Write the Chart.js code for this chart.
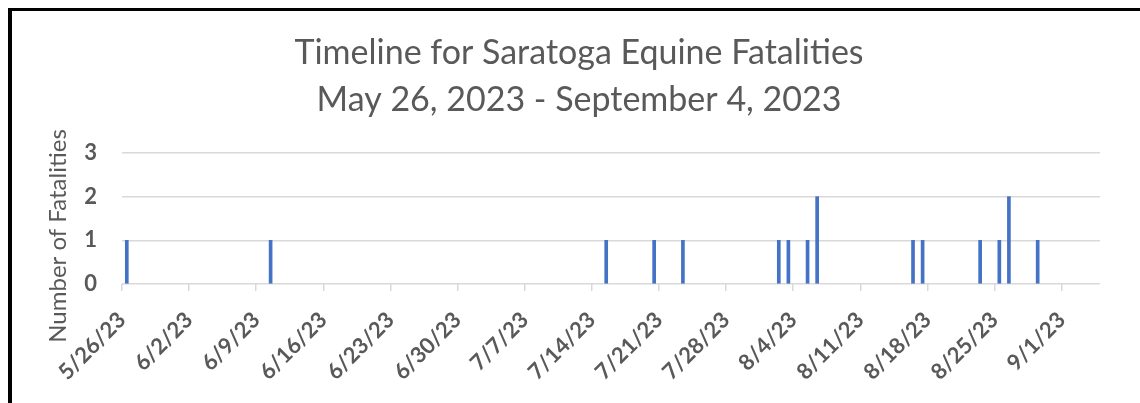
<!DOCTYPE html>
<html>
<head>
<meta charset="utf-8">
<script src="https://cdn.jsdelivr.net/npm/chart.js@4.4.0/dist/chart.umd.min.js"></script>
<style>
  html, body { margin: 0; padding: 0; background: #fff; }
  #wrap { position: relative; width: 1140px; height: 403px; overflow: hidden; }
  #fatalityChart { position: absolute; left: 0; top: 0; }
  #frame { position: absolute; left: 8px; top: 8px; right: -10px; bottom: -10px;
           border-top: 3px solid #000; border-left: 4px solid #000; pointer-events: none; }
</style>
</head>
<body>
<div id="wrap">
  <canvas id="fatalityChart" width="1140" height="403"></canvas>
  <div id="frame"></div>
</div>
<script>
// axis range (day after the last day is the right edge)
const startDate = '2023-05-26';
const endDate = '2023-09-05';

const tickLabels = ['5/26/23', '6/2/23', '6/9/23', '6/16/23', '6/23/23', '6/30/23', '7/7/23',
  '7/14/23', '7/21/23', '7/28/23', '8/4/23', '8/11/23', '8/18/23', '8/25/23', '9/1/23'];

const fatalityDates = ['2023-05-26', '2023-06-10', '2023-07-15', '2023-07-20', '2023-07-23',
  '2023-08-02', '2023-08-03', '2023-08-05', '2023-08-06', '2023-08-16', '2023-08-17',
  '2023-08-23', '2023-08-25', '2023-08-26', '2023-08-29'];
const fatalityCounts = [1, 1, 1, 1, 1, 1, 1, 1, 2, 1, 1, 1, 1, 2, 1];

const titleLines = ['Timeline for Saratoga Equine Fatalities', 'May 26, 2023 - September 4, 2023'];
const yTitle = 'Number of Fatalities';

const DAY = 86400000;
const dayIndex = (iso) => (Date.parse(iso) - Date.parse(startDate)) / DAY;
const labelDay = (lbl) => {
  const [m, d, y] = lbl.split('/').map(Number);
  return (Date.UTC(2000 + y, m - 1, d) - Date.parse(startDate)) / DAY;
};

const GRAY = '#595959';
const GRID = '#d9d9d9';

// y axis title drawn at the spot Excel put it
const yTitlePlugin = {
  id: 'yTitle',
  afterDraw(chart) {
    const ctx = chart.ctx;
    ctx.save();
    ctx.translate(58, 236);
    ctx.rotate(-Math.PI / 2);
    ctx.font = '24px Lato';
    ctx.fillStyle = GRAY;
    ctx.textAlign = 'center';
    ctx.textBaseline = 'middle';
    ctx.fillText(yTitle, 0, 0);
    ctx.restore();
  },
};

new Chart(document.getElementById('fatalityChart'), {
  type: 'bar',
  data: {
    datasets: [{
      label: 'Fatalities',
      data: fatalityDates.map((d, i) => ({ x: dayIndex(d) + 0.5, y: fatalityCounts[i] })),
      backgroundColor: '#4472C4',
      borderWidth: 0,
      barThickness: 3,
    }],
  },
  options: {
    responsive: false,
    animation: false,
    layout: { padding: { left: 58, right: 40, top: 0, bottom: 0 } },
    plugins: {
      legend: { display: false },
      tooltip: { enabled: false },
      title: {
        display: true,
        text: titleLines,
        color: GRAY,
        font: { family: 'Lato', size: 34, weight: 'normal', lineHeight: 46.5 / 34 },
        padding: { top: 30, bottom: 30 },
      },
    },
    scales: {
      x: {
        type: 'linear',
        min: 0,
        max: dayIndex(endDate),
        offset: false,
        afterBuildTicks: (scale) => {
          scale.ticks = tickLabels.map((l) => ({ value: labelDay(l) }));
        },
        afterFit: (scale) => { scale.height = 119; },
        ticks: {
          autoSkip: false,
          minRotation: 45,
          maxRotation: 45,
          padding: 16,
          color: GRAY,
          font: { family: 'Lato', size: 22, weight: 'bold' },
          callback: (v, i) => tickLabels[i],
        },
        grid: { drawOnChartArea: false, drawTicks: true, tickLength: 7, color: GRID, lineWidth: 1.5, offset: false },
        border: { display: false },
      },
      y: {
        min: 0,
        max: 3,
        afterFit: (scale) => { scale.width = 64; },
        ticks: {
          stepSize: 1,
          padding: 25,
          color: GRAY,
          font: { family: 'Lato', size: 22, weight: 'bold' },
        },
        grid: { color: GRID, lineWidth: 1.5, drawTicks: false },
        border: { display: false },
      },
    },
  },
  plugins: [yTitlePlugin],
});
</script>
</body>
</html>
